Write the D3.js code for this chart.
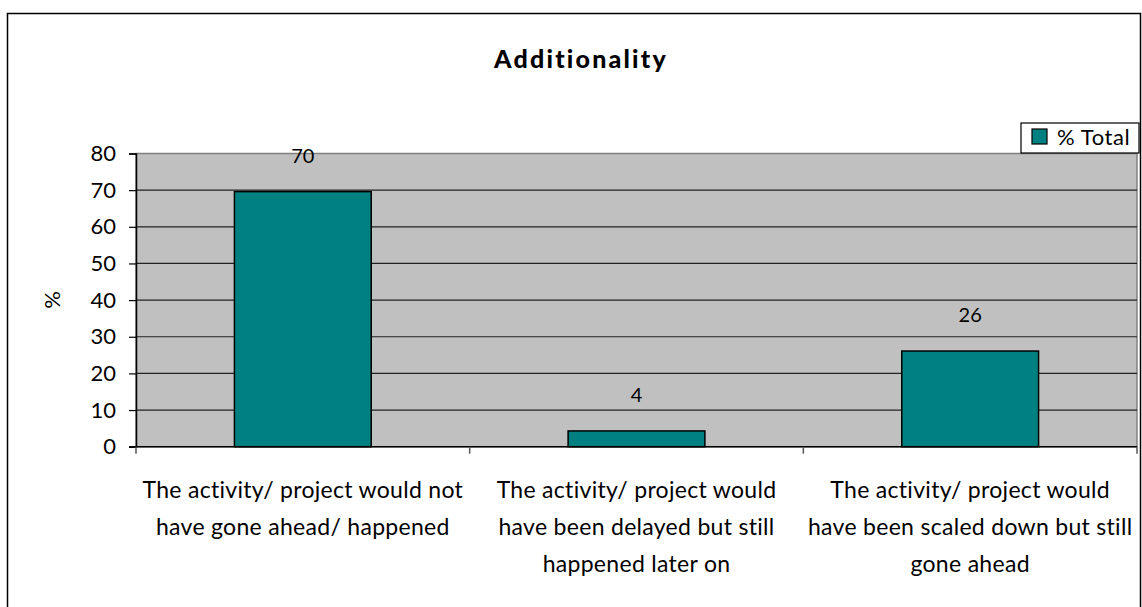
<!DOCTYPE html>
<html>
<head>
<meta charset="utf-8">
<script src="https://cdn.jsdelivr.net/npm/d3@7"></script>
<style>
  body { margin: 0; background: #fff; }
  svg { display: block; font-family: Lato, "Open Sans", sans-serif; }
</style>
</head>
<body>
<div id="chart"></div>
<script>
// values (labels are the rounded values)
var categories = ["c1", "c2", "c3"];
var categoryLines = [
  ["The activity/ project would not", "have gone ahead/ happened"],
  ["The activity/ project would", "have been delayed but still", "happened later on"],
  ["The activity/ project would", "have been scaled down but still", "gone ahead"]
];
var totals = [69.6, 4.3, 26.1];
var yTicks = [0, 10, 20, 30, 40, 50, 60, 70, 80];
var seriesName = "% Total";
var chartTitle = "Additionality";

var W = 1142, H = 607;
var plot = { left: 136, right: 1137, top: 153.5, bottom: 446.7 };

var svg = d3.select("#chart").append("svg")
  .attr("width", W)
  .attr("height", H);

// outer chart border (bottom runs off the picture)
svg.append("rect")
  .attr("x", 7.5).attr("y", 13.5)
  .attr("width", 1133).attr("height", 620)
  .attr("fill", "#fff")
  .attr("stroke", "#000")
  .attr("stroke-width", 1.5);

var x = d3.scaleBand()
  .domain(categories)
  .range([plot.left, plot.right])
  .paddingInner(0.59)
  .paddingOuter(0.295);

var y = d3.scaleLinear()
  .domain([0, 80])
  .range([plot.bottom, plot.top]);

// plot background
svg.append("rect")
  .attr("x", plot.left).attr("y", plot.top)
  .attr("width", plot.right - plot.left)
  .attr("height", plot.bottom - plot.top)
  .attr("fill", "#c0c0c0")
  .attr("stroke", "#808080")
  .attr("stroke-width", 1.5);

// gridlines
svg.append("g")
  .selectAll("line")
  .data(yTicks.filter(function(d) { return d > 0 && d < 80; }))
  .join("line")
  .attr("x1", plot.left).attr("x2", plot.right)
  .attr("y1", function(d) { return y(d); })
  .attr("y2", function(d) { return y(d); })
  .attr("stroke", "#222")
  .attr("stroke-width", 1.2);

// bars
svg.append("g")
  .selectAll("rect")
  .data(totals)
  .join("rect")
  .attr("x", function(d, i) { return x(categories[i]); })
  .attr("y", function(d) { return y(d); })
  .attr("width", x.bandwidth())
  .attr("height", function(d) { return y(0) - y(d); })
  .attr("fill", "#008080")
  .attr("stroke", "#000")
  .attr("stroke-width", 1.5);

// data labels
svg.append("g")
  .selectAll("text")
  .data(totals)
  .join("text")
  .attr("x", function(d, i) { return x(categories[i]) + x.bandwidth() / 2; })
  .attr("y", function(d) { return y(d) - 29; })
  .attr("text-anchor", "middle")
  .attr("font-size", 20)
  .attr("fill", "#000")
  .text(d3.format(".0f"));

// y axis
var yAxis = svg.append("g")
  .attr("transform", "translate(" + plot.left + ",0)")
  .call(d3.axisLeft(y).tickValues(yTicks).tickSize(7).tickPadding(13));
yAxis.select(".domain").attr("stroke", "#000").attr("stroke-width", 1.5);
yAxis.selectAll(".tick line").attr("stroke", "#000").attr("stroke-width", 1.2);
yAxis.selectAll(".tick text")
  .attr("font-family", "Lato, sans-serif")
  .attr("font-size", 22)
  .attr("fill", "#000");

// x axis line and category separators
svg.append("line")
  .attr("x1", plot.left - 7).attr("x2", plot.right)
  .attr("y1", plot.bottom).attr("y2", plot.bottom)
  .attr("stroke", "#000").attr("stroke-width", 1.5);

var edges = categories.map(function(c) { return x(c) - x.step() * x.paddingInner() / 2; });
edges.push(plot.right);
edges[0] = plot.left;
svg.append("g")
  .selectAll("line")
  .data(edges)
  .join("line")
  .attr("x1", function(d) { return d; })
  .attr("x2", function(d) { return d; })
  .attr("y1", plot.bottom)
  .attr("y2", plot.bottom + 7)
  .attr("stroke", "#555")
  .attr("stroke-width", 1.5);

// category labels
var catText = svg.append("g")
  .selectAll("text")
  .data(categoryLines)
  .join("text")
  .attr("text-anchor", "middle")
  .attr("font-size", 23)
  .attr("letter-spacing", 0.3)
  .attr("fill", "#000")
  .attr("x", function(d, i) { return x(categories[i]) + x.bandwidth() / 2; });
catText.selectAll("tspan")
  .data(function(d) { return d; })
  .join("tspan")
  .attr("x", function() { return d3.select(this.parentNode).attr("x"); })
  .attr("y", function(d, j) { return 498 + j * 37; })
  .text(function(d) { return d; });

// y axis title
svg.append("text")
  .attr("transform", "translate(60,300) rotate(-90)")
  .attr("text-anchor", "middle")
  .attr("font-size", 22)
  .text("%");

// title
svg.append("text")
  .attr("x", 581)
  .attr("y", 68)
  .attr("text-anchor", "middle")
  .attr("font-size", 25)
  .attr("font-weight", "900")
  .attr("letter-spacing", 2.2)
  .text(chartTitle);

// legend
var legend = svg.append("g");
legend.append("rect")
  .attr("x", 1021).attr("y", 123)
  .attr("width", 118).attr("height", 30)
  .attr("fill", "#fff")
  .attr("stroke", "#000")
  .attr("stroke-width", 1.2);
legend.append("rect")
  .attr("x", 1032).attr("y", 129)
  .attr("width", 15).attr("height", 15)
  .attr("fill", "#008080")
  .attr("stroke", "#000")
  .attr("stroke-width", 1.2);
legend.append("text")
  .attr("x", 1057).attr("y", 145)
  .attr("font-size", 22)
  .attr("letter-spacing", 0.6)
  .text(seriesName);
</script>
</body>
</html>
